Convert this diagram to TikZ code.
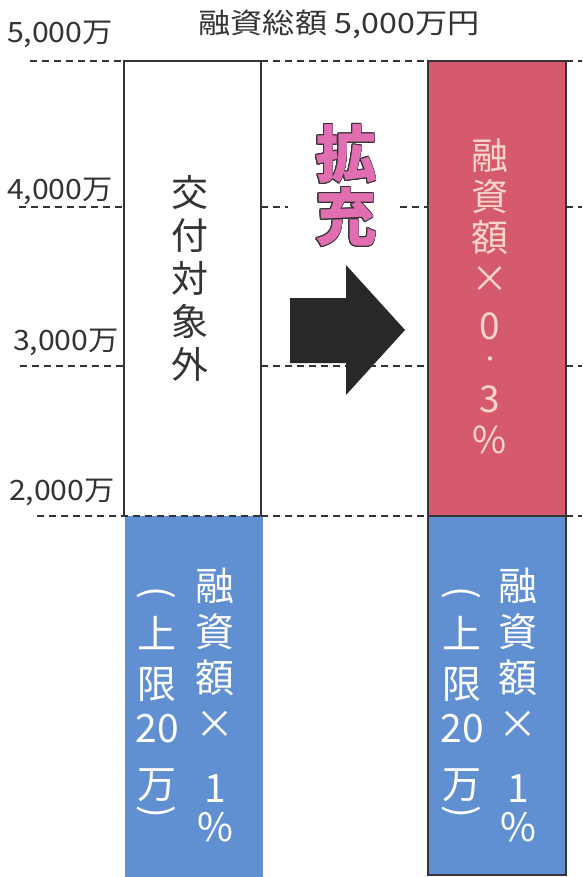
\documentclass[tikz,border=0pt]{standalone}
\usepackage{fontspec}
\setmainfont{Noto Sans CJK JP}
\usepackage{contour}
\contourlength{0.7pt}
\definecolor{barblue}{RGB}{96,143,210}
\definecolor{barred}{RGB}{214,90,110}
\definecolor{mag}{RGB}{224,110,176}
\definecolor{peach}{RGB}{250,214,196}
\definecolor{ink}{RGB}{52,52,52}
\definecolor{arrowc}{RGB}{40,40,40}
\begin{document}
\begin{tikzpicture}[x=1pt,y=-1pt,
  guide/.style={draw=ink, line width=1.6pt, dash pattern=on 7pt off 5pt},
  lbl/.style={font=\fontsize{28}{30}\selectfont, text=ink, inner sep=0pt},
  vcol/.style={align=center, inner sep=0pt},
  paren/.style={font=\fontsize{38}{40}\selectfont, text=white, inner sep=0pt},
  boxline/.style={draw=ink, line width=2pt}]
\useasboundingbox (0,0) rectangle (582,877);
\fill[white] (0,0) rectangle (582,877);
% guide lines
\draw[guide] (30,61) -- (124,61);
\draw[guide] (261,61) -- (428,61);
\draw[guide] (566,61) -- (582,61);
\draw[guide] (19,207) -- (124,207);
\draw[guide] (261,207) -- (288,207);
\draw[guide] (400,207) -- (428,207);
\draw[guide] (566,207) -- (582,207);
\draw[guide] (20,366) -- (124,366);
\draw[guide] (261,366) -- (428,366);
\draw[guide] (566,366) -- (582,366);
% bars
\fill[barblue] (125,516) rectangle (263,877);
\draw[boxline, fill=white] (124,516) -- (124,61) -- (261,61) -- (261,516);
\fill[barred] (428,61) rectangle (566,516);
\draw[boxline] (428,61) rectangle (566,516);
\fill[barblue] (428,516) rectangle (566,875);
\draw[boxline] (428,516) rectangle (566,875);
\draw[guide] (37,516) -- (261,516);
\draw[guide] (261,516) -- (428,516);
\draw[guide] (566,516) -- (582,516);
% arrow
\fill[arrowc] (290,298) -- (346,298) -- (346,265) -- (405,330) -- (346,395) -- (346,363) -- (290,363) -- cycle;
% labels
\node[lbl] (title) at (339,24) {\scalebox{1.15}[1]{融資総額 5,000万円}};
\node[lbl, anchor=east] (l5) at (113,34) {\scalebox{1.08}[1]{5,000万}};
\node[lbl, anchor=east] (l4) at (113,191) {\scalebox{1.08}[1]{4,000万}};
\node[lbl, anchor=east] (l3) at (119,342) {\scalebox{1.08}[1]{3,000万}};
\node[lbl, anchor=east] (l2) at (115,492) {\scalebox{1.08}[1]{2,000万}};
% expansion
\node[vcol, font=\fontsize{62}{63}\selectfont\bfseries] (kakuju) at (346,186)
  {\contour{ink}{\textcolor{mag}{拡}}\\\contour{ink}{\textcolor{mag}{充}}};
% white box text
\node[vcol, font=\fontsize{37}{43}\selectfont, text=ink] (wtext) at (190,278)
  {交\\付\\対\\象\\外};
% red box text
\node[vcol, font=\fontsize{37}{41}\selectfont, text=peach] (rtext) at (490,296)
  {融\\資\\額\\×\\[6pt]0\\[-14pt]{\fontsize{20}{20}\selectfont ・}\\[5pt]3\\\%};
% blue texts (left bar)
\node[vcol, font=\fontsize{39}{46}\selectfont, text=white] (artext) at (215,705)
  {融\\資\\額\\×\\[18pt]1\\[-7pt]\%};
\node[vcol, font=\fontsize{39}{50}\selectfont, text=white] (altext) at (157,709)
  {上\\限\\[-6pt]20\\[6pt]万};
\node[paren] (alo) at (156,596) {\rotatebox[origin=c]{-90}{(}};
\node[paren] (alc) at (156,815) {\rotatebox[origin=c]{-90}{)}};
% blue texts (right bar)
\node[vcol, font=\fontsize{39}{46}\selectfont, text=white] (brtext) at (518,705)
  {融\\資\\額\\×\\[18pt]1\\[-7pt]\%};
\node[vcol, font=\fontsize{39}{50}\selectfont, text=white] (bltext) at (462,709)
  {上\\限\\[-6pt]20\\[6pt]万};
\node[paren] (blo) at (461,596) {\rotatebox[origin=c]{-90}{(}};
\node[paren] (blc) at (461,815) {\rotatebox[origin=c]{-90}{)}};
\end{tikzpicture}
\end{document}
